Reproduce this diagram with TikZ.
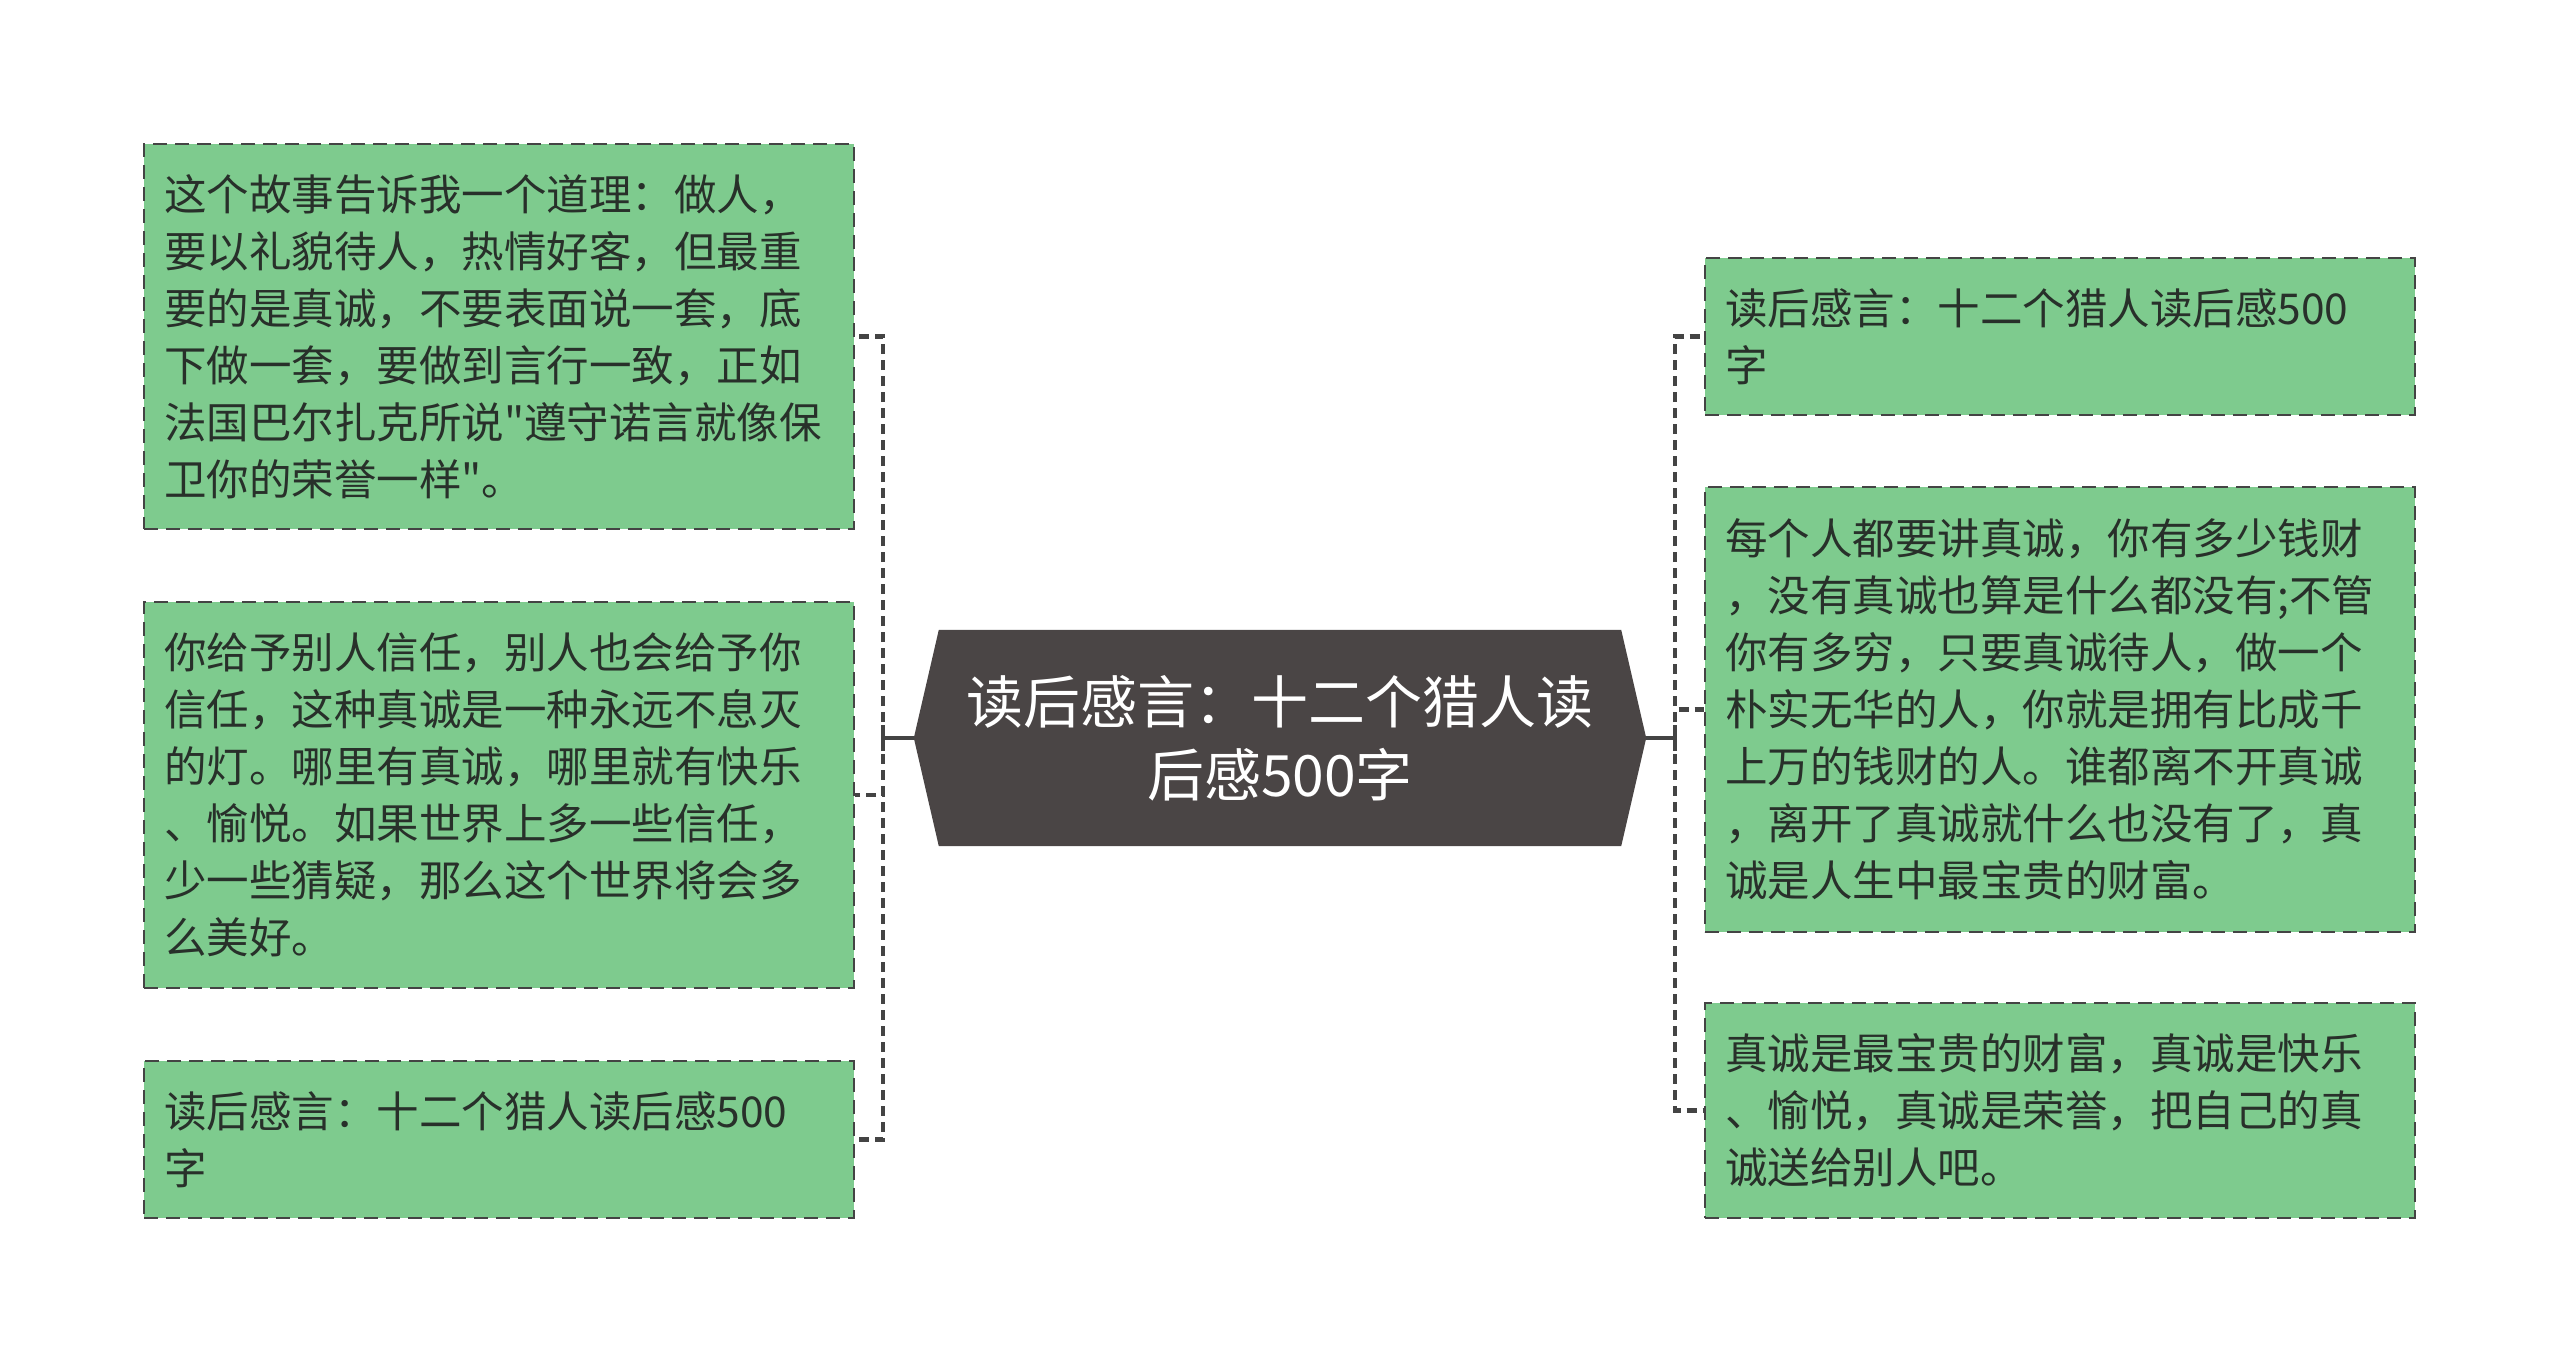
\documentclass[tikz,border=0pt]{standalone}
\usepackage{fontspec}
\newfontfamily\cjkfont{Noto Sans CJK SC}
\usetikzlibrary{backgrounds}
\definecolor{leafgreen}{RGB}{126,203,142}
\definecolor{leafline}{RGB}{68,68,68}
\definecolor{hubgray}{RGB}{74,69,69}
\definecolor{leaftext}{RGB}{40,48,42}

\begin{document}
\begin{tikzpicture}[
  x=1pt, y=-1pt,
  leaf/.style={
    rectangle,
    draw=leafline,
    line width=2.5pt,
    dash pattern=on 14pt off 8pt,
    fill=leafgreen,
    align=left,
    inner xsep=20pt,
    inner ysep=0pt,
    text width=670pt,
    minimum width=710pt,
    text=leaftext,
    font=\cjkfont\fontsize{42.5}{57}\selectfont
  },
  hub/.style={
    rectangle,
    align=center,
    inner sep=0pt,
    minimum width=682pt,
    minimum height=216pt,
    text=white,
    font=\cjkfont\fontsize{57}{73}\selectfont
  },
  link/.style={draw=leafline, line width=4.5pt, dash pattern=on 10pt off 6pt},
  hubline/.style={draw=leafline, line width=4pt}
]
\useasboundingbox (0,0) rectangle (2560,1361);

\node[hub] (hub) at (1280,738) {读后感言：十二个猎人读\\后感500字};
\coordinate (hubw) at ([xshift=-25pt]hub.west);
\coordinate (hube) at ([xshift=25pt]hub.east);
\begin{scope}[on background layer]
  \fill[hubgray] (hub.north west) -- (hub.north east) -- (hube)
    -- (hub.south east) -- (hub.south west) -- (hubw) -- cycle;
\end{scope}

% left branch
\node[leaf, minimum height=385pt] (l1) at (499,336.5) {这个故事告诉我一个道理：做人，\\要以礼貌待人，热情好客，但最重\\要的是真诚，不要表面说一套，底\\下做一套，要做到言行一致，正如\\法国巴尔扎克所说"遵守诺言就像保\\卫你的荣誉一样"。};
\node[leaf, minimum height=386pt] (l2) at (499,795) {你给予别人信任，别人也会给予你\\信任，这种真诚是一种永远不息灭\\的灯。哪里有真诚，哪里就有快乐\\、愉悦。如果世界上多一些信任，\\少一些猜疑，那么这个世界将会多\\么美好。};
\node[leaf, minimum height=157pt] (l3) at (499,1139.5) {读后感言：十二个猎人读后感500\\字};

% right branch
\node[leaf, minimum height=157pt] (r1) at (2060,336.5) {读后感言：十二个猎人读后感500\\字};
\node[leaf, minimum height=445pt] (r2) at (2060,709.5) {每个人都要讲真诚，你有多少钱财\\，没有真诚也算是什么都没有;不管\\你有多穷，只要真诚待人，做一个\\朴实无华的人，你就是拥有比成千\\上万的钱财的人。谁都离不开真诚\\，离开了真诚就什么也没有了，真\\诚是人生中最宝贵的财富。};
\node[leaf, minimum height=215pt] (r3) at (2060,1110.5) {真诚是最宝贵的财富，真诚是快乐\\、愉悦，真诚是荣誉，把自己的真\\诚送给别人吧。};

\coordinate (ljoin) at (883,738);
\coordinate (rjoin) at (1675,738);

\draw[hubline] (hubw) -- (ljoin);
\draw[hubline] ([yshift=-13pt]ljoin) -- ([yshift=13pt]ljoin);
\draw[hubline] (hube) -- (rjoin);
\draw[hubline] ([yshift=-13pt]rjoin) -- ([yshift=13pt]rjoin);

\draw[link] (ljoin) |- (l1.east);
\draw[link] (ljoin) |- (l2.east);
\draw[link] (ljoin) |- (l3.east);
\draw[link] (rjoin) |- (r1.west);
\draw[link] (rjoin) |- (r2.west);
\draw[link] (rjoin) |- (r3.west);

\end{tikzpicture}
\end{document}
